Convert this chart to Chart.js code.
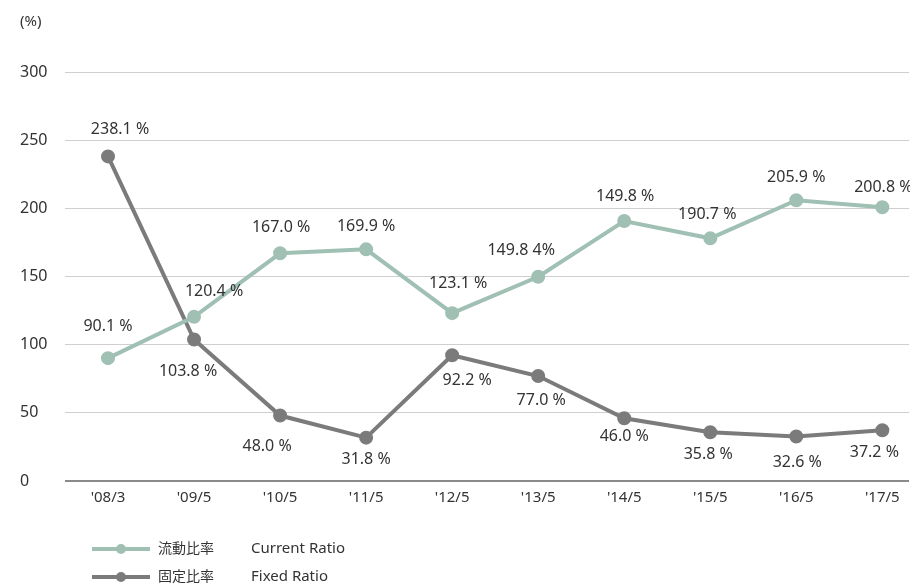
<!DOCTYPE html>
<html>
<head>
<meta charset="utf-8">
<script src="https://cdn.jsdelivr.net/npm/chart.js@4/dist/chart.umd.min.js"></script>
<style>
  html, body { margin: 0; padding: 0; background: #fff; overflow: hidden; }
  #wrap { width: 910px; height: 586px; position: relative; overflow: hidden; }
  #myChart { position: absolute; left: 0; top: 0; }
</style>
</head>
<body>
<div id="wrap"><canvas id="myChart" width="918" height="586"></canvas></div>
<script>
var periods = ["'08/3", "'09/5", "'10/5", "'11/5", "'12/5", "'13/5", "'14/5", "'15/5", "'16/5", "'17/5"];
var currentRatio = [90.1, 120.4, 167.0, 169.9, 123.1, 149.8, 190.7, 178.0, 205.9, 200.8];
var fixedRatio = [238.1, 103.8, 48.0, 31.8, 92.2, 77.0, 46.0, 35.8, 32.6, 37.2];
// labels as printed in the picture
var currentLabels = ["90.1 %", "120.4 %", "167.0 %", "169.9 %", "123.1 %", "149.8 4%", "149.8 %", "190.7 %", "205.9 %", "200.8 %"];
var fixedLabels = ["238.1 %", "103.8 %", "48.0 %", "31.8 %", "92.2 %", "77.0 %", "46.0 %", "35.8 %", "32.6 %", "37.2 %"];
var namesJa = ["流動比率", "固定比率"];
var namesEn = ["Current Ratio", "Fixed Ratio"];
var yTicks = [0, 50, 100, 150, 200, 250, 300];

// label nudges (pixels from the point)
var currentDx = [0, 20, 1, 0, 6, -17, 1, -3, 0, 1];
var currentDy = [-32, -25, -26, -23, -30, -26, -25, -24, -23, -20];
var fixedDx = [12, -6, -13, 0, 15, 3, 0, -2, 1, -8];
var fixedDy = [-27, 32, 31, 22, 25, 24, 18, 22, 26, 22];

var green = "#a0c0b4";
var gray = "#7b7b7b";
var font = "'Noto Sans', 'Noto Sans CJK JP', sans-serif";

function toPoints(arr){
  var pts = [];
  for (var i = 0; i < arr.length; i++) {
    pts.push({x: i, y: arr[i]});
  }
  return pts;
}

var labelPlugin = {
  id: "labels",
  afterDatasetsDraw: function(chart){
    var ctx = chart.ctx;
    ctx.save();
    ctx.font = "16px " + font;
    ctx.fillStyle = "#333";
    ctx.textAlign = "center";
    ctx.textBaseline = "middle";
    var sets = [currentLabels, fixedLabels];
    var dxs = [currentDx, fixedDx];
    var dys = [currentDy, fixedDy];
    for (var d = 0; d < 2; d++) {
      var meta = chart.getDatasetMeta(d);
      for (var i = 0; i < meta.data.length; i++) {
        var p = meta.data[i];
        ctx.fillText(sets[d][i], p.x + dxs[d][i], p.y + dys[d][i]);
      }
    }
    // unit
    ctx.textAlign = "left";
    ctx.font = "15px " + font;
    ctx.fillText("(%)", 20, 22);
    // legend
    var colors = [green, gray];
    var rows = [549, 577];
    for (var k = 0; k < 2; k++) {
      var y = rows[k];
      ctx.strokeStyle = colors[k];
      ctx.lineWidth = 4;
      ctx.beginPath();
      ctx.moveTo(92, y);
      ctx.lineTo(150, y);
      ctx.stroke();
      ctx.fillStyle = colors[k];
      ctx.beginPath();
      ctx.arc(121, y, 5, 0, Math.PI * 2);
      ctx.fill();
      ctx.fillStyle = "#333";
      ctx.font = "14px " + font;
      ctx.fillText(namesJa[k], 158, y);
      ctx.font = "15px " + font;
      ctx.fillText(namesEn[k], 251, y);
    }
    ctx.restore();
  }
};

var ctx = document.getElementById("myChart").getContext("2d");
var myChart = new Chart(ctx, {
  type: "line",
  data: {
    datasets: [{
      label: namesJa[0],
      data: toPoints(currentRatio),
      borderColor: green,
      backgroundColor: green,
      borderWidth: 4,
      pointRadius: 5,
      pointHoverRadius: 5,
      tension: 0
    }, {
      label: namesJa[1],
      data: toPoints(fixedRatio),
      borderColor: gray,
      backgroundColor: gray,
      borderWidth: 4,
      pointRadius: 5,
      pointHoverRadius: 5,
      tension: 0
    }]
  },
  options: {
    responsive: false,
    animation: false,
    layout: { padding: { top: 72, left: 20, right: 0, bottom: 75 } },
    plugins: { legend: { display: false }, tooltip: { enabled: false } },
    scales: {
      x: {
        type: "linear",
        min: -0.5,
        max: 9.31,
        afterBuildTicks: function(scale){
          scale.ticks = periods.map(function(p, i){ return {value: i}; });
        },
        afterFit: function(scale){ scale.height = 30; },
        grid: { display: false, drawTicks: false },
        border: { display: false },
        ticks: {
          color: "#333",
          padding: 8,
          font: { family: font, size: 15 },
          maxRotation: 0,
          callback: function(v){ return periods[v] !== undefined ? periods[v] : ""; }
        }
      },
      y: {
        min: 0,
        max: 300,
        afterBuildTicks: function(scale){
          scale.ticks = yTicks.map(function(v){ return {value: v}; });
        },
        afterFit: function(scale){ scale.width = 45; },
        grid: {
          drawTicks: false,
          color: function(c){ return c.tick && c.tick.value === 0 ? "#8a8a8a" : "#cfcfcf"; },
          lineWidth: function(c){ return c.tick && c.tick.value === 0 ? 2 : 1; }
        },
        border: { display: false },
        ticks: {
          color: "#333",
          crossAlign: "far",
          padding: 0,
          font: { family: font, size: 16 }
        }
      }
    }
  },
  plugins: [labelPlugin]
});
</script>
</body>
</html>
